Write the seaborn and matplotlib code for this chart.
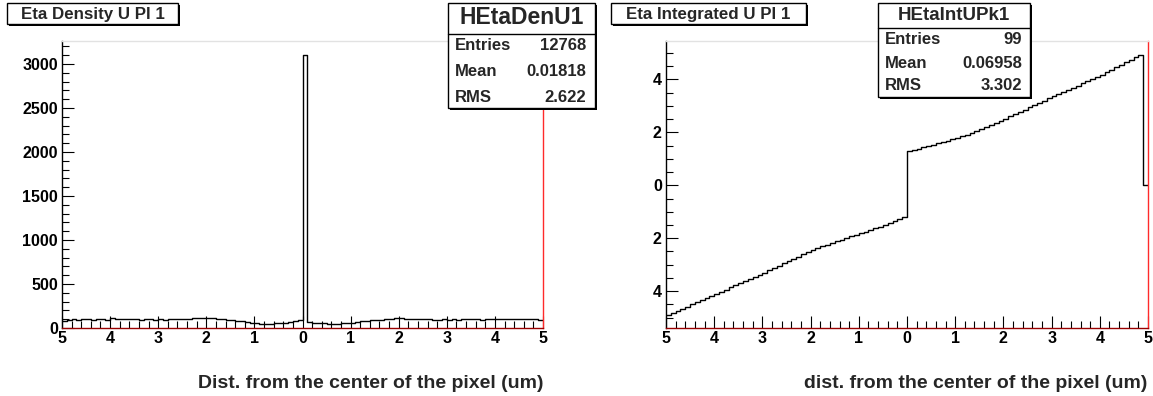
import numpy as np
import pandas as pd
import matplotlib
matplotlib.use("Agg")
import matplotlib.pyplot as plt
import seaborn as sns
from matplotlib.patches import Rectangle
from matplotlib.ticker import MultipleLocator, FixedLocator

sns.set_theme(style="white")
plt.rcParams["font.family"] = ["Liberation Sans", "DejaVu Sans"]
plt.rcParams["font.weight"] = "bold"

# ---------------- data ----------------
n_bins = 100
x_range = (-5, 5)

density_counts = [
    80, 92, 98, 96, 100, 97, 95, 99, 102, 96,
    112, 104, 100, 98, 99, 101, 96, 102, 100, 95,
    98, 94, 100, 97, 103, 101, 105, 108, 110, 109,
    111, 108, 104, 100, 95, 90, 82, 75, 70, 62,
    55, 50, 48, 50, 52, 58, 62, 72, 80, 88,
    3105, 68, 60, 56, 52, 50, 47, 48, 52, 56,
    60, 68, 75, 82, 88, 92, 96, 100, 104, 115,
    108, 105, 106, 103, 100, 97, 99, 94, 96, 100,
    95, 98, 96, 100, 102, 97, 99, 95, 100, 98,
    103, 98, 100, 97, 102, 99, 104, 97, 100, 88,
]

integrated_values = [
    -4.90, -4.82, -4.74, -4.66, -4.58, -4.50, -4.42, -4.34, -4.26, -4.18,
    -4.10, -4.02, -3.94, -3.86, -3.78, -3.70, -3.62, -3.54, -3.46, -3.38,
    -3.30, -3.21, -3.12, -3.03, -2.95, -2.86, -2.77, -2.69, -2.61, -2.53,
    -2.45, -2.38, -2.31, -2.24, -2.17, -2.11, -2.05, -1.99, -1.93, -1.87,
    -1.81, -1.75, -1.69, -1.62, -1.56, -1.49, -1.43, -1.36, -1.29, -1.20,
    1.28, 1.33, 1.38, 1.43, 1.48, 1.53, 1.58, 1.63, 1.68, 1.73,
    1.79, 1.85, 1.91, 1.98, 2.05, 2.12, 2.19, 2.27, 2.35, 2.43,
    2.52, 2.60, 2.69, 2.77, 2.86, 2.94, 3.03, 3.11, 3.19, 3.28,
    3.36, 3.44, 3.52, 3.60, 3.68, 3.76, 3.85, 3.93, 4.01, 4.09,
    4.18, 4.27, 4.36, 4.45, 4.55, 4.64, 4.74, 4.83, 4.93, 0.00,
]

x_tick_values = [-5, -4, -3, -2, -1, 0, 1, 2, 3, 4, 5]
x_tick_labels = ["5", "4", "3", "2", "1", "0", "1", "2", "3", "4", "5"]
den_y_ticks = [0, 500, 1000, 1500, 2000, 2500, 3000]
den_y_labels = ["0", "500", "1000", "1500", "2000", "2500", "3000"]
int_y_ticks = [-4, -2, 0, 2, 4]
int_y_labels = ["4", "2", "0", "2", "4"]

titles = ["Eta Density U Pl 1", "Eta Integrated U Pl 1"]
stat_names = ["HEtaDenU1", "HEtaIntUPk1"]
stat_rows = [
    [("Entries", "12768"), ("Mean", "0.01818"), ("RMS", "2.622")],
    [("Entries", "99"), ("Mean", "0.06958"), ("RMS", "3.302")],
]
x_titles = ["Dist. from the center of the pixel (um)",
            "dist. from the center of the pixel (um)"]

# ---------------- figure ----------------
W, H = 1153, 396
fig = plt.figure(figsize=(W / 100, H / 100), dpi=100)
fig.patch.set_facecolor("white")


def fx(px):
    return px / W


def fy(py):
    return 1 - py / H


ax1 = fig.add_axes([fx(62), fy(328), 481 / W, 287 / H])
ax2 = fig.add_axes([fx(666), fy(328), 482 / W, 287 / H])

bin_w = (x_range[1] - x_range[0]) / n_bins
centers = x_range[0] + bin_w * (np.arange(n_bins) + 0.5)
df_den = pd.DataFrame({"x": centers, "w": density_counts})
df_int = pd.DataFrame({"x": centers, "w": integrated_values})

sns.histplot(data=df_den, x="x", weights="w", bins=n_bins, binrange=x_range,
             element="step", fill=False, color="black", linewidth=1.0, ax=ax1)
sns.histplot(data=df_int, x="x", weights="w", bins=n_bins, binrange=x_range,
             element="step", fill=False, color="black", linewidth=1.0, ax=ax2)


def style(ax, ylim, yt, ytl, yminor):
    ax.set_facecolor("white")
    ax.set_xlim(-5, 5)
    ax.set_ylim(*ylim)
    ax.set_xlabel("")
    ax.set_ylabel("")
    for s in ax.spines.values():
        s.set_visible(True)
        s.set_linewidth(1.0)
    ax.spines["left"].set_color("black")
    ax.spines["bottom"].set_color("#990000")
    ax.spines["right"].set_color("#ff2a2a")
    ax.spines["top"].set_color("#e2e2e2")
    ax.xaxis.set_major_locator(FixedLocator(x_tick_values))
    ax.set_xticklabels(x_tick_labels)
    ax.xaxis.set_minor_locator(MultipleLocator(0.2))
    ax.yaxis.set_major_locator(FixedLocator(yt))
    ax.set_yticklabels(ytl)
    ax.yaxis.set_minor_locator(MultipleLocator(yminor))
    ax.tick_params(which="both", bottom=True, left=True, top=False, right=False,
                   direction="in", color="black", width=0.8, labelcolor="black")
    ax.tick_params(which="major", length=8.5, labelsize=11.5)
    ax.tick_params(which="minor", length=4.8)
    ax.tick_params(axis="x", which="major", pad=2.5)
    ax.tick_params(axis="y", which="major", pad=3)
    for lab in ax.get_xticklabels() + ax.get_yticklabels():
        lab.set_fontweight("bold")


style(ax1, (0, 3262), den_y_ticks, den_y_labels, 100)
style(ax2, (-5.39, 5.45), int_y_ticks, int_y_labels, 0.5)


def box(x0, y0, x1, y1):
    sh = Rectangle((fx(x0 + 2), fy(y1 + 2)), (x1 - x0) / W, (y1 - y0) / H,
                   transform=fig.transFigure, facecolor="black",
                   edgecolor="none", zorder=5)
    bx = Rectangle((fx(x0), fy(y1)), (x1 - x0) / W, (y1 - y0) / H,
                   transform=fig.transFigure, facecolor="white",
                   edgecolor="black", linewidth=1.0, zorder=6)
    fig.add_artist(sh)
    fig.add_artist(bx)


# title boxes
title_geo = [(7, 3, 178, 24), (611, 3, 806, 24)]
for t, (x0, y0, x1, y1) in zip(titles, title_geo):
    box(x0, y0, x1, y1)
    fig.text(fx((x0 + x1) / 2), fy((y0 + y1) / 2 + 0.5), t, ha="center",
             va="center", fontsize=12.2, fontweight="bold", zorder=7)

# stats boxes
stat_geo = [
    dict(x0=448, y0=3, x1=595, y1=108, sep=34, head=18, rows=[45, 71, 97],
         lx=455, rx=586, hsize=16.5),
    dict(x0=878, y0=3, x1=1030, y1=97, sep=28, head=16, rows=[39, 63, 86],
         lx=885, rx=1022, hsize=13.5),
]
for name, rows, g in zip(stat_names, stat_rows, stat_geo):
    box(g["x0"], g["y0"], g["x1"], g["y1"])
    fig.add_artist(plt.Line2D([fx(g["x0"]), fx(g["x1"])],
                              [fy(g["sep"]), fy(g["sep"])],
                              transform=fig.transFigure, color="black",
                              linewidth=1.0, zorder=7))
    fig.text(fx((g["x0"] + g["x1"]) / 2), fy(g["head"]), name, ha="center",
             va="center", fontsize=g["hsize"], fontweight="bold", zorder=7)
    for (lab, val), ry in zip(rows, g["rows"]):
        fig.text(fx(g["lx"]), fy(ry), lab, ha="left", va="center",
                 fontsize=12, fontweight="bold", zorder=7)
        fig.text(fx(g["rx"]), fy(ry), val, ha="right", va="center",
                 fontsize=12, fontweight="bold", zorder=7)

# x-axis titles
fig.text(fx(543), fy(383), x_titles[0], ha="right", va="center",
         fontsize=14, fontweight="bold")
fig.text(fx(1147), fy(383), x_titles[1], ha="right", va="center",
         fontsize=14, fontweight="bold")

fig.savefig("out.png", dpi=100, facecolor="white")
